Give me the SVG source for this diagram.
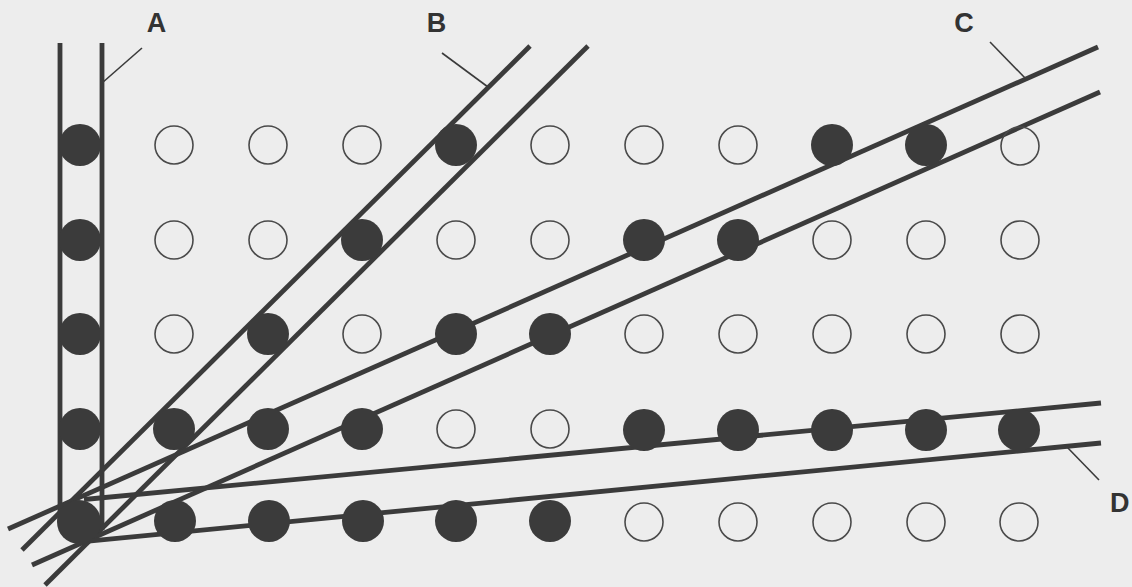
<svg xmlns="http://www.w3.org/2000/svg" width="1132" height="587" viewBox="0 0 1132 587">
  <style>
    .bg { fill: #ededed; }
    .band { stroke: #3b3b3b; stroke-width: 4.8; fill: none; stroke-linecap: butt; }
    .leader { stroke: #3b3b3b; stroke-width: 1.6; fill: none; }
    .on { fill: #3b3b3b; }
    .off { fill: none; stroke: #4a4a4a; stroke-width: 1.6; }
    .lbl { font-family: "Liberation Sans", Arial, sans-serif; font-weight: bold; font-size: 27px; fill: #333333; }
  </style>
  <rect class="bg" x="0" y="0" width="1132" height="587"/>

  <!-- parallel line pairs fanning out from the corner dot -->
  <g id="connectors">
    <line id="a-left" class="band" x1="60" y1="43" x2="60" y2="522"/>
    <line id="a-right" class="band" x1="102" y1="43" x2="102" y2="530"/>
    <line id="b-left" class="band" x1="22" y1="550" x2="530" y2="46"/>
    <line id="b-right" class="band" x1="45" y1="585" x2="588" y2="46"/>
    <line id="c-upper" class="band" x1="8" y1="529" x2="1098" y2="47"/>
    <line id="c-lower" class="band" x1="32" y1="565" x2="1100" y2="92"/>
    <line id="d-upper" class="band" x1="84" y1="499.5" x2="1101" y2="403"/>
    <line id="d-lower" class="band" x1="86" y1="541.4" x2="1101" y2="443"/>
  </g>

  <!-- dot grid: 11 columns x 5 rows -->
  <g id="row0">
    <g id="n0-0"><circle class="on" cx="80" cy="145" r="21"/></g>
    <g id="n0-1"><circle class="off" cx="174" cy="145" r="19"/></g>
    <g id="n0-2"><circle class="off" cx="268" cy="145" r="19"/></g>
    <g id="n0-3"><circle class="off" cx="362" cy="145" r="19"/></g>
    <g id="n0-4"><circle class="on" cx="456" cy="145" r="21"/></g>
    <g id="n0-5"><circle class="off" cx="550" cy="145" r="19"/></g>
    <g id="n0-6"><circle class="off" cx="644" cy="145" r="19"/></g>
    <g id="n0-7"><circle class="off" cx="738" cy="145" r="19"/></g>
    <g id="n0-8"><circle class="on" cx="832" cy="145" r="21"/></g>
    <g id="n0-9"><circle class="on" cx="926" cy="145" r="21"/></g>
    <g id="n0-10"><circle class="off" cx="1020" cy="146" r="19"/></g>
  </g>
  <g id="row1">
    <g id="n1-0"><circle class="on" cx="80" cy="240" r="21"/></g>
    <g id="n1-1"><circle class="off" cx="174" cy="240" r="19"/></g>
    <g id="n1-2"><circle class="off" cx="268" cy="240" r="19"/></g>
    <g id="n1-3"><circle class="on" cx="362" cy="240" r="21"/></g>
    <g id="n1-4"><circle class="off" cx="456" cy="240" r="19"/></g>
    <g id="n1-5"><circle class="off" cx="550" cy="240" r="19"/></g>
    <g id="n1-6"><circle class="on" cx="644" cy="240" r="21"/></g>
    <g id="n1-7"><circle class="on" cx="738" cy="240" r="21"/></g>
    <g id="n1-8"><circle class="off" cx="832" cy="240" r="19"/></g>
    <g id="n1-9"><circle class="off" cx="926" cy="240" r="19"/></g>
    <g id="n1-10"><circle class="off" cx="1020" cy="240" r="19"/></g>
  </g>
  <g id="row2">
    <g id="n2-0"><circle class="on" cx="80" cy="334" r="21"/></g>
    <g id="n2-1"><circle class="off" cx="174" cy="334" r="19"/></g>
    <g id="n2-2"><circle class="on" cx="268" cy="334" r="21"/></g>
    <g id="n2-3"><circle class="off" cx="362" cy="334" r="19"/></g>
    <g id="n2-4"><circle class="on" cx="456" cy="334" r="21"/></g>
    <g id="n2-5"><circle class="on" cx="550" cy="334" r="21"/></g>
    <g id="n2-6"><circle class="off" cx="644" cy="334" r="19"/></g>
    <g id="n2-7"><circle class="off" cx="738" cy="334" r="19"/></g>
    <g id="n2-8"><circle class="off" cx="832" cy="334" r="19"/></g>
    <g id="n2-9"><circle class="off" cx="926" cy="334" r="19"/></g>
    <g id="n2-10"><circle class="off" cx="1020" cy="334" r="19"/></g>
  </g>
  <g id="row3">
    <g id="n3-0"><circle class="on" cx="80" cy="429" r="21"/></g>
    <g id="n3-1"><circle class="on" cx="174" cy="429" r="21"/></g>
    <g id="n3-2"><circle class="on" cx="268" cy="429" r="21"/></g>
    <g id="n3-3"><circle class="on" cx="362" cy="429" r="21"/></g>
    <g id="n3-4"><circle class="off" cx="456" cy="429" r="19"/></g>
    <g id="n3-5"><circle class="off" cx="550" cy="429" r="19"/></g>
    <g id="n3-6"><circle class="on" cx="644" cy="430" r="21"/></g>
    <g id="n3-7"><circle class="on" cx="738" cy="430" r="21"/></g>
    <g id="n3-8"><circle class="on" cx="832" cy="430" r="21"/></g>
    <g id="n3-9"><circle class="on" cx="926" cy="430" r="21"/></g>
    <g id="n3-10"><circle class="on" cx="1019" cy="430" r="21"/></g>
  </g>
  <g id="row4">
    <g id="n4-0"><circle class="on" cx="79" cy="522" r="22"/></g>
    <g id="n4-1"><circle class="on" cx="175" cy="521" r="21"/></g>
    <g id="n4-2"><circle class="on" cx="269" cy="521" r="21"/></g>
    <g id="n4-3"><circle class="on" cx="363" cy="521" r="21"/></g>
    <g id="n4-4"><circle class="on" cx="456" cy="521" r="21"/></g>
    <g id="n4-5"><circle class="on" cx="550" cy="521" r="21"/></g>
    <g id="n4-6"><circle class="off" cx="644" cy="522" r="19"/></g>
    <g id="n4-7"><circle class="off" cx="738" cy="522" r="19"/></g>
    <g id="n4-8"><circle class="off" cx="832" cy="522" r="19"/></g>
    <g id="n4-9"><circle class="off" cx="926" cy="522" r="19"/></g>
    <g id="n4-10"><circle class="off" cx="1019" cy="522" r="19"/></g>
  </g>

  <!-- line labels with leader strokes -->
  <g id="label-a">
    <line class="leader" x1="102" y1="83" x2="142" y2="48"/>
    <text class="lbl" x="156.5" y="32" text-anchor="middle">A</text>
  </g>
  <g id="label-b">
    <line class="leader" x1="488" y1="87" x2="442" y2="53"/>
    <text class="lbl" x="436.5" y="32" text-anchor="middle">B</text>
  </g>
  <g id="label-c">
    <line class="leader" x1="1026" y1="79" x2="990" y2="42"/>
    <text class="lbl" x="964" y="32" text-anchor="middle">C</text>
  </g>
  <g id="label-d">
    <line class="leader" x1="1066" y1="446" x2="1099" y2="480"/>
    <text class="lbl" x="1110" y="512">D</text>
  </g>
</svg>
